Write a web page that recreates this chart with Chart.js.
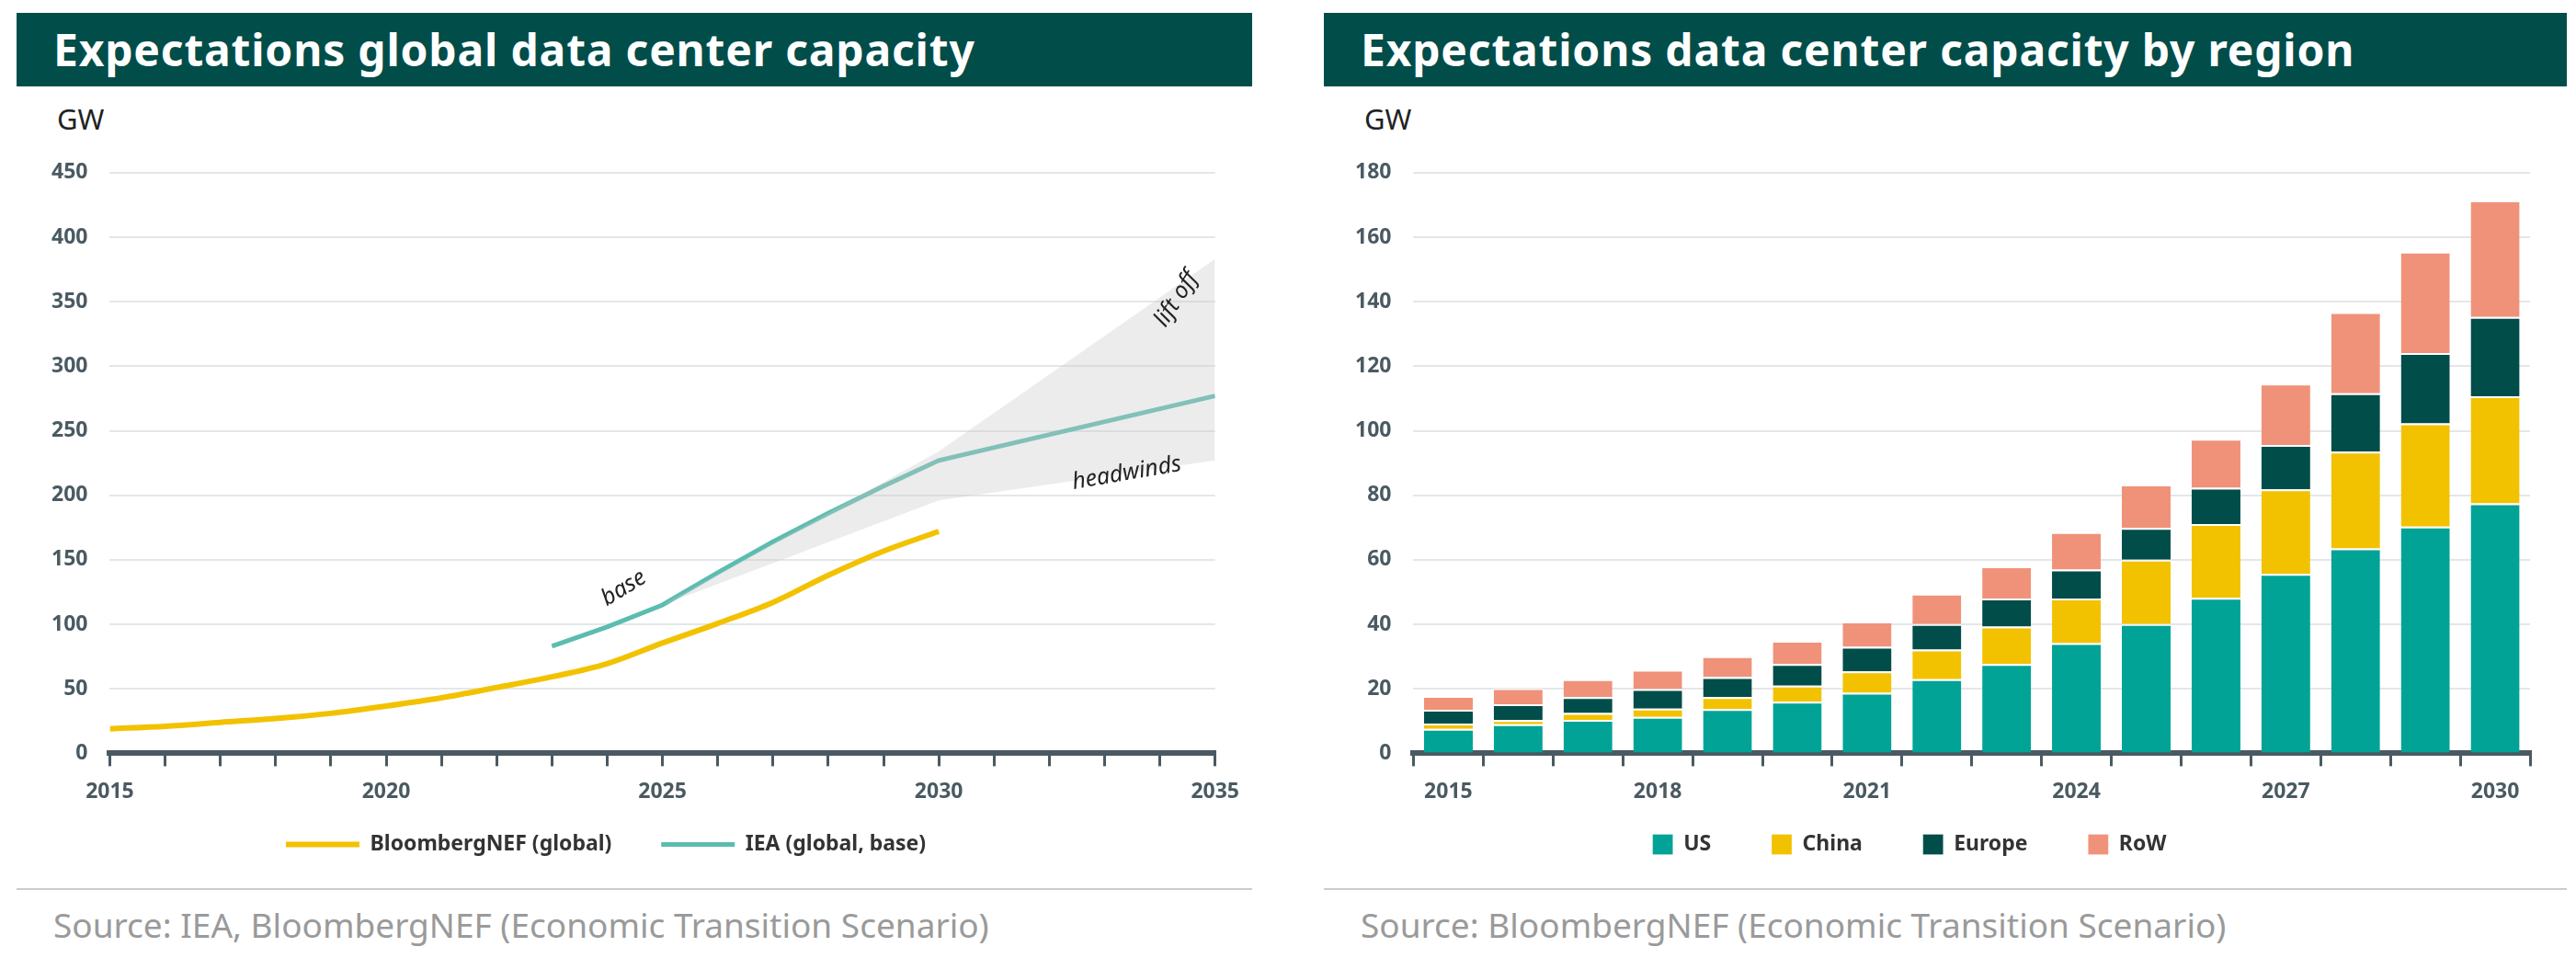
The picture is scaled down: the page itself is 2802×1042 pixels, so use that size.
<!DOCTYPE html>
<html>
<head>
<meta charset="utf-8">
<script src="https://cdn.jsdelivr.net/npm/chart.js@4.4.1/dist/chart.umd.min.js"></script>
<style>
  body { margin: 0; background: #fff; font-family: "Noto Sans", sans-serif; width: 2802px; height: 1042px; overflow: hidden; }
  .panel { position: absolute; top: 14px; }
  .head { background: #004d4a; color: #fff; font-weight: bold; font-size: 48px; height: 80px; line-height: 80px; padding-left: 40px; letter-spacing: 0.8px; }
  .unit { font-size: 31px; color: #222; margin: 14px 0 0 44px; }
  .box { position: relative; height: 790px; }
  .src { position: absolute; top: 952px; left: 0; right: 0; border-top: 2px solid #ccc; padding-top: 12px; font-size: 37px; color: #9a9a9a; padding-left: 40px; }
</style>
</head>
<body>
<div class="panel" style="left:18px;width:1344px">
  <div class="head">Expectations global data center capacity</div>
  <div class="unit">GW</div>
  <div class="box"><canvas id="lineChart"></canvas></div>
  <div class="src">Source: IEA, BloombergNEF (Economic Transition Scenario)</div>
</div>
<div class="panel" style="left:1440px;width:1352px">
  <div class="head">Expectations data center capacity by region</div>
  <div class="unit">GW</div>
  <div class="box"><canvas id="barChart"></canvas></div>
  <div class="src">Source: BloombergNEF (Economic Transition Scenario)</div>
</div>
<script>
// left chart data
const bnefYears = [2015, 2016, 2017, 2018, 2019, 2020, 2021, 2022, 2023, 2024, 2025, 2026, 2027, 2028, 2029, 2030]
const bnefValues = [19, 21, 24, 27, 31, 36.6, 43, 51, 59.3, 69.5, 85.5, 100.7, 117, 138, 156.7, 172]
const ieaYears = [2023, 2024, 2025, 2026, 2027, 2028, 2029, 2030, 2035]
const ieaValues = [83, 98, 115, 140, 164, 186, 207, 227, 277]
const bandYears = [2025, 2030, 2035]
const bandUpper = [115, 234, 383]
const bandLower = [115, 196, 227]

// right chart data
const regionYears = ["2015", "2016", "2017", "2018", "2019", "2020", "2021", "2022", "2023", "2024", "2025", "2026", "2027", "2028", "2029", "2030"]
const usValues = [7.6, 9, 10.4, 11.3, 13.7, 16, 18.8, 23, 27.7, 34.2, 40.1, 48.2, 55.6, 63.5, 70.3, 77.5]
const chinaValues = [1.6, 1.3, 2.1, 2.6, 3.7, 5, 6.6, 9.2, 11.6, 13.8, 19.9, 22.9, 26.2, 30, 32, 33.2]
const europeValues = [4.3, 4.9, 4.9, 6, 6.2, 6.7, 7.6, 7.9, 8.7, 9, 9.9, 11.2, 13.8, 18.1, 21.8, 24.6]
const rowValues = [4.3, 5, 5.6, 6, 6.5, 7.2, 7.9, 9.4, 10, 11.6, 13.4, 15.2, 19, 25.2, 31.4, 36.1]

const TEAL = "#00a396", YELLOW = "#f2c200", DARK = "#004d4a", SALMON = "#f09279", AXIS = "#4a5a62"
const pts = (xs, ys) => xs.map((x, i) => ({ x: x, y: ys[i] }))
const tickFont = { family: "Noto Sans", size: 23, weight: "bold" }
const legendFont = { family: "Noto Sans", size: 23, weight: "bold" }

Chart.defaults.animation = false
Chart.defaults.color = AXIS

// wider legend spacing without extra vertical padding
const spacedLabels = (extra, skip) => chart =>
  Chart.defaults.plugins.legend.labels.generateLabels(chart)
    .filter(l => !skip.includes(l.text))
    .map(l => ({ ...l, text: l.text + extra }))

// rotated scenario labels on the band
const bandLabels = {
  id: "bandLabels",
  afterDatasetsDraw(chart) {
    const { ctx, scales: { x, y } } = chart
    const items = [
      ["base", 2024.3, 128, -0.55],
      ["lift off", 2034.3, 352, -1.0],
      ["headwinds", 2033.4, 217, -0.17]
    ]
    ctx.save()
    ctx.fillStyle = "#222"
    ctx.font = "italic 25px 'Noto Sans'"
    ctx.textAlign = "center"
    items.forEach(([t, xv, yv, a]) => {
      ctx.save()
      ctx.translate(x.getPixelForValue(xv), y.getPixelForValue(yv))
      ctx.rotate(a)
      ctx.fillText(t, 0, 0)
      ctx.restore()
    })
    ctx.restore()
  }
}

new Chart(document.getElementById("lineChart"), {
  type: "line",
  plugins: [bandLabels],
  data: {
    datasets: [
      { label: "upper", data: pts(bandYears, bandUpper), borderWidth: 0, pointRadius: 0, fill: "+1", backgroundColor: "rgba(200,200,200,0.35)" },
      { label: "lower", data: pts(bandYears, bandLower), borderWidth: 0, pointRadius: 0, fill: false },
      { label: "BloombergNEF (global)", data: pts(bnefYears, bnefValues), borderColor: YELLOW, backgroundColor: YELLOW, borderWidth: 6, pointRadius: 0, cubicInterpolationMode: "monotone" },
      { label: "IEA (global, base)", data: pts(ieaYears, ieaValues), borderColor: "#5cbcb0", backgroundColor: TEAL, borderWidth: 5, pointRadius: 0 }
    ]
  },
  options: {
    responsive: true,
    maintainAspectRatio: false,
    layout: { padding: { left: 14, right: 40, top: 30 } },
    plugins: {
      legend: {
        position: "bottom",
        labels: {
          generateLabels: spacedLabels("      ", ["upper", "lower"]),
          usePointStyle: true, pointStyle: "line", pointStyleWidth: 80, boxHeight: 6,
          padding: 18, font: legendFont, color: "#333"
        }
      },
      tooltip: { enabled: false }
    },
    scales: {
      x: {
        type: "linear", min: 2015, max: 2035,
        ticks: { stepSize: 1, autoSkip: false, maxRotation: 0, font: tickFont, padding: 14, callback: v => v % 5 === 0 ? v : "" },
        grid: { drawOnChartArea: false, drawTicks: true, tickLength: 14, color: AXIS, lineWidth: 3 },
        border: { color: AXIS, width: 6 }
      },
      y: {
        min: 0, max: 450,
        ticks: { stepSize: 50, font: tickFont, padding: 24 },
        grid: { color: "#e3e7ea", lineWidth: 2, drawTicks: false },
        border: { display: false }
      }
    }
  }
})

new Chart(document.getElementById("barChart"), {
  type: "bar",
  data: {
    labels: regionYears,
    datasets: [
      { label: "US", data: usValues, backgroundColor: TEAL },
      { label: "China", data: chinaValues, backgroundColor: YELLOW },
      { label: "Europe", data: europeValues, backgroundColor: DARK },
      { label: "RoW", data: rowValues, backgroundColor: SALMON }
    ]
  },
  options: {
    responsive: true,
    maintainAspectRatio: false,
    layout: { padding: { left: 10, right: 40, top: 10 } },
    datasets: { bar: { categoryPercentage: 0.7, barPercentage: 1, borderWidth: { top: 2 }, borderColor: "rgba(255,255,255,0.5)" } },
    plugins: {
      legend: {
        position: "bottom",
        labels: { generateLabels: spacedLabels("        ", []), boxWidth: 22, boxHeight: 22, padding: 18, font: legendFont, color: "#333" }
      },
      tooltip: { enabled: false }
    },
    scales: {
      x: {
        stacked: true,
        ticks: { autoSkip: false, maxRotation: 0, font: tickFont, padding: 14, callback: (v, i) => i % 3 === 0 ? regionYears[i] : "" },
        grid: { drawOnChartArea: false, drawTicks: true, tickLength: 14, color: AXIS, lineWidth: 3 },
        border: { color: AXIS, width: 6 }
      },
      y: {
        stacked: true, min: 0, max: 180,
        ticks: { stepSize: 20, font: tickFont, padding: 24 },
        grid: { color: "#e3e7ea", lineWidth: 2, drawTicks: false },
        border: { display: false }
      }
    }
  }
})
</script>
</body>
</html>
